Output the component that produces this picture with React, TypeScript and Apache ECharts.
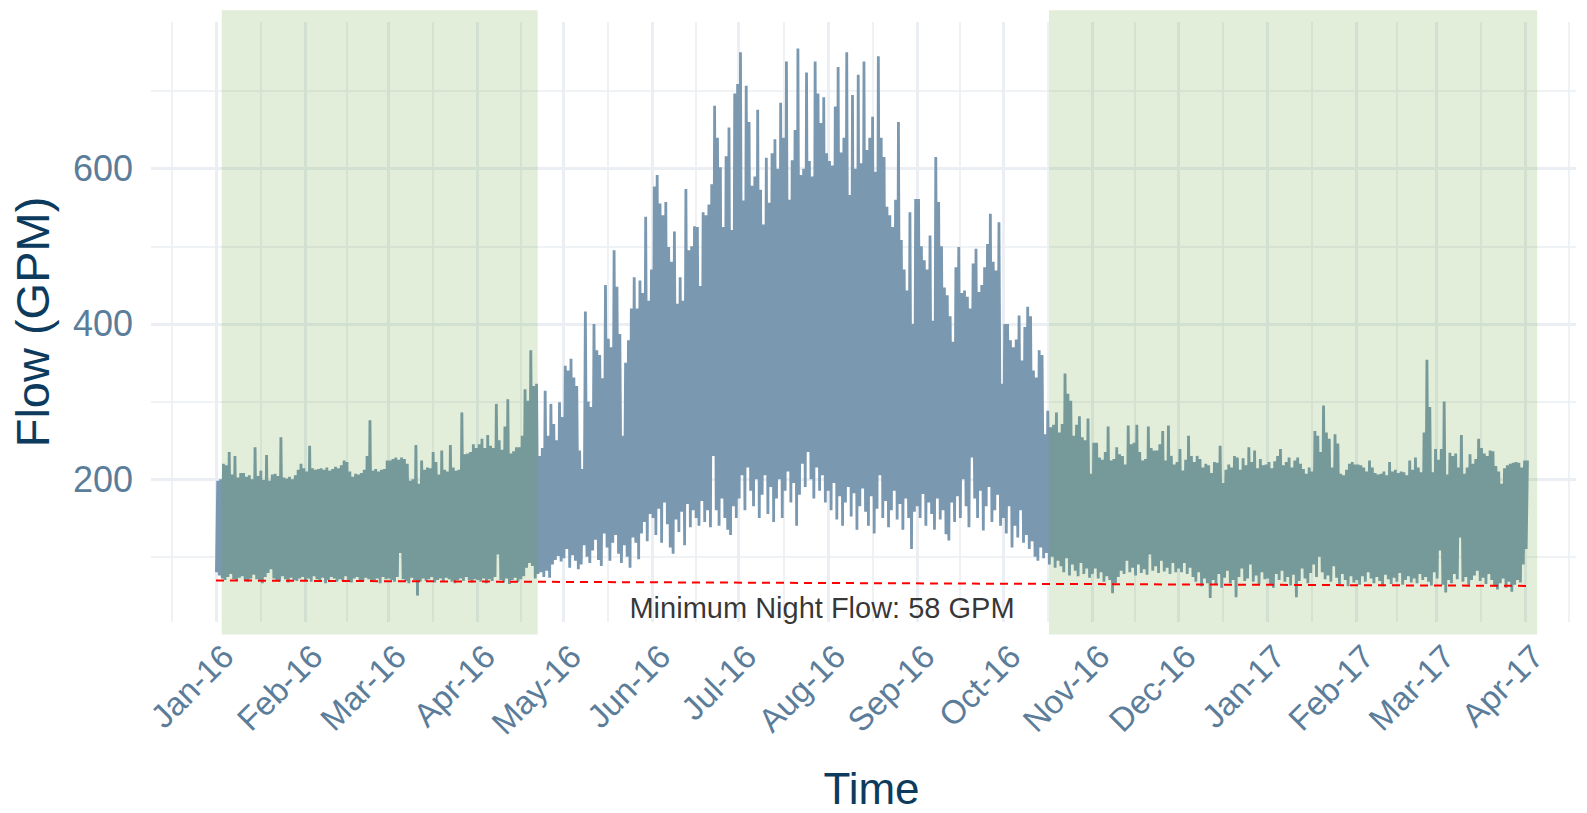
import React, { useEffect, useRef } from "react";
import * as echarts from "echarts";

// ---------- data ----------
const SERIES_START = "2016-01-01";

// daily peak flow (GPM), one value per day from 2016-01-01
const dailyHigh = [
  // Jan-16
  198, 200, 220, 218, 235, 206, 230, 202, 208, 208, 203, 205, 200, 241, 204, 211, 199, 231, 198, 206, 207, 204, 254, 202, 201, 203, 200, 205, 212, 220, 214,
  // Feb-16
  210, 243, 214, 212, 213, 214, 212, 215, 211, 213, 216, 214, 218, 224, 222, 210, 203, 207, 206, 208, 212, 230, 276, 211, 213, 210, 212, 213, 224,
  // Mar-16
  224, 226, 228, 225, 228, 226, 220, 198, 200, 244, 194, 224, 212, 215, 214, 235, 222, 206, 237, 212, 210, 244, 215, 211, 212, 286, 232, 233, 235, 245, 240,
  // Apr-16
  245, 252, 240, 257, 243, 240, 297, 250, 238, 268, 303, 233, 236, 241, 241, 256, 316, 301, 366, 320, 323, 230, 240, 314, 256, 297, 271, 250, 299, 280,
  // May-16
  346, 340, 355, 331, 320, 237, 213, 416, 300, 293, 400, 366, 360, 330, 450, 381, 370, 495, 448, 387, 256, 350, 379, 420, 460, 420, 456, 440, 538, 430, 470,
  // Jun-16
  577, 592, 555, 540, 557, 499, 480, 519, 426, 460, 430, 574, 495, 500, 526, 525, 449, 544, 540, 554, 580, 681, 640, 602, 525, 616, 653, 521, 697, 709,
  // Jul-16
  750, 559, 707, 660, 578, 590, 676, 573, 528, 614, 556, 620, 638, 600, 685, 640, 738, 560, 611, 650, 755, 592, 600, 724, 610, 590, 738, 697, 659, 692, 620,
  // Aug-16
  610, 604, 680, 731, 621, 640, 750, 566, 695, 600, 721, 607, 738, 624, 640, 667, 596, 745, 640, 615, 551, 540, 525, 560, 660, 508, 470, 443, 544, 400, 561,
  // Sep-16
  561, 500, 482, 470, 514, 404, 615, 557, 500, 447, 437, 410, 377, 473, 499, 440, 443, 435, 420, 478, 497, 441, 450, 473, 503, 542, 480, 469, 531, 323,
  // Oct-16
  400, 400, 379, 370, 380, 411, 353, 396, 422, 410, 340, 331, 366, 360, 258, 288, 267, 270, 286, 260, 271, 336, 310, 301, 256, 270, 281, 254, 250, 278, 207,
  // Nov-16
  247, 247, 228, 225, 235, 268, 224, 226, 241, 232, 230, 219, 269, 245, 247, 270, 235, 224, 226, 268, 240, 237, 237, 245, 262, 224, 269, 230, 219, 222,
  // Dec-16
  239, 211, 225, 256, 230, 222, 230, 226, 215, 220, 218, 208, 222, 221, 243, 195, 212, 219, 215, 230, 228, 212, 227, 218, 241, 222, 237, 214, 226, 218, 219,
  // Jan-17
  222, 214, 223, 230, 239, 218, 222, 228, 215, 224, 228, 220, 213, 207, 215, 210, 262, 256, 235, 295, 260, 252, 215, 258, 246, 207, 205, 212, 220, 222, 219,
  // Feb-17
  219, 218, 215, 210, 224, 215, 208, 206, 207, 210, 205, 222, 210, 212, 208, 210, 209, 205, 224, 212, 228, 215, 209, 260, 354, 293, 209, 239,
  // Mar-17
  225, 239, 300, 206, 234, 230, 233, 215, 257, 207, 215, 232, 220, 226, 252, 240, 233, 230, 237, 236, 217, 210, 194, 214, 218, 220, 221, 222, 221, 215, 224,
  // Apr-17
  224,
];

// daily night minimum flow (GPM), one value per day from 2016-01-01
const dailyLow = [
  // Jan-16
  80, 76, 72, 70, 74, 78, 71, 69, 73, 75, 70, 68, 72, 77, 71, 69, 66, 74, 79, 84, 72, 70, 68, 75, 71, 67, 73, 70, 69, 72, 74,
  // Feb-16
  70, 72, 68, 75, 71, 69, 73, 66, 70, 74, 72, 68, 71, 69, 75, 70, 67, 72, 74, 70, 69, 73, 71, 68, 70, 72, 66, 74, 71,
  // Mar-16
  72, 70, 68, 74, 105, 71, 69, 66, 73, 70, 50, 68, 72, 69, 71, 74, 67, 70, 72, 69, 73, 71, 68, 66, 70, 72, 69, 74, 70, 67, 71,
  // Apr-16
  70, 68, 72, 66, 71, 69, 74, 103, 70, 67, 72, 65, 70, 73, 68, 71, 75, 86, 92, 88, 72, 78, 80, 74, 82, 73, 90, 96, 101, 94,
  // May-16
  98, 110, 86, 102, 95, 84, 90, 115, 100, 92, 108, 122, 96, 88, 130, 112, 95, 118, 128, 104, 92, 115, 100, 86, 125, 118, 97, 130, 145, 120, 155,
  // Jun-16
  150, 128, 162, 118, 170, 142, 112, 104, 148, 132, 158, 115, 168, 138, 160, 150, 140, 172, 145, 160, 138, 230, 160, 140, 175, 150, 135, 128, 165, 150,
  // Jul-16
  175, 205, 160, 215, 185, 165, 200, 150, 180, 205, 155, 190, 145, 175, 200, 150, 185, 210, 170, 195, 140, 180, 220, 190, 235, 200, 175, 215, 185, 205, 170,
  // Aug-16
  185, 160, 195, 148, 178, 140, 170, 190, 152, 182, 135, 165, 188, 158, 140, 178, 130, 162, 205, 150, 172, 138, 160, 185, 148, 168, 135, 175, 150, 110, 158,
  // Sep-16
  165, 150, 181, 140, 170, 155, 135, 175, 148, 160, 129, 121, 170, 145, 178, 150, 200, 165, 138, 228, 175, 150, 185, 134, 165, 190, 145, 160, 180, 140,
  // Oct-16
  150, 130, 165, 112, 140, 125, 160, 118, 128, 110, 120, 100, 95, 112, 98, 105, 90, 100, 86, 95, 88, 80, 98, 76, 90, 82, 75, 92, 78, 85, 73,
  // Nov-16
  78, 85, 72, 80, 68, 75, 70, 53, 66, 74, 82, 78, 95, 80, 86, 76, 90, 79, 84, 77, 103, 82, 88, 79, 95, 81, 86, 78, 92, 80,
  // Dec-16
  85, 80, 92, 78, 86, 74, 68, 80, 62, 72, 66, 47, 70, 64, 78, 60, 73, 82, 66, 70, 48, 74, 85, 69, 72, 90, 68, 76, 65, 80, 71,
  // Jan-17
  72, 65, 60, 78, 70, 82, 68, 74, 63, 77, 48, 69, 85, 72, 66, 79, 90, 74, 100, 80, 71, 76, 68, 88, 73, 65, 78, 70, 62, 75, 67,
  // Feb-17
  70, 64, 75, 68, 80, 72, 66, 74, 69, 62, 77, 71, 65, 73, 68, 79, 64, 70, 75, 67, 72, 66, 78, 70, 74, 68, 63, 80,
  // Mar-17
  72, 108, 64, 54, 70, 66, 78, 71, 125, 68, 74, 63, 70, 76, 82, 69, 73, 65, 78, 70, 62, 58, 66, 72, 60, 68, 55, 64, 70, 67, 90,
  // Apr-17
  110,
];

// x-axis month breaks (labels shown for those inside the range)
const monthBreaks = [
  "2015-12-01", "2016-01-01", "2016-02-01", "2016-03-01", "2016-04-01", "2016-05-01", "2016-06-01",
  "2016-07-01", "2016-08-01", "2016-09-01", "2016-10-01", "2016-11-01", "2016-12-01",
  "2017-01-01", "2017-02-01", "2017-03-01", "2017-04-01", "2017-05-01",
];
const labelledMonths = monthBreaks.slice(1, 17);
const monthNames = ["Jan", "Feb", "Mar", "Apr", "May", "Jun", "Jul", "Aug", "Sep", "Oct", "Nov", "Dec"];

// y-axis breaks
const yMajorBreaks = [200, 400, 600];
const yMinorBreaks = [100, 300, 500, 700];
const yLimits = [16, 789];

// shaded low-demand (winter) periods
const shadedPeriods = [
  ["2016-01-03", "2016-04-22"],
  ["2016-10-17", "2017-04-05"],
];
const shadedValueRange = [0, 804];

// minimum night flow reference line
const nightFlowLine = [
  ["2016-01-01", 69.5],
  ["2017-04-03", 62.5],
];
const nightFlowLabel = { date: "2016-07-30", value: 34, text: "Minimum Night Flow: 58 GPM" };

// ---------- helpers ----------
const DAY = 24 * 3600 * 1000;
const parse = (s: string) => Date.parse(s + "T00:00:00Z");

const FONT = "Liberation Sans, Arial, Helvetica, sans-serif";
const TICK_COLOR = "#5b7d9a";
const TITLE_COLOR = "#0d3b5e";
const GRID_COLOR = "#ebeff3";

export default function App() {
  const ref = useRef<HTMLDivElement>(null);

  useEffect(() => {
    if (!ref.current) return;
    const chart = echarts.init(ref.current, undefined, { renderer: "svg" });

    const t0 = parse(SERIES_START);
    const flowData: [number, number][] = [];
    for (let i = 0; i < dailyHigh.length; i++) {
      flowData.push([t0 + (i + 0.15) * DAY, dailyLow[i]]);
      flowData.push([t0 + (i + 0.6) * DAY, dailyHigh[i]]);
    }

    const majorX = monthBreaks.map(parse);
    const minorX: number[] = [];
    for (let i = 0; i < majorX.length - 1; i++) minorX.push((majorX[i] + majorX[i + 1]) / 2);

    const xMin = t0 - 22.63 * DAY;
    const xMax = t0 + 473.5 * DAY;

    const shadeData = shadedPeriods.map(([a, b]) => [parse(a), parse(b), shadedValueRange[0], shadedValueRange[1]]);

    const fmt = (v: number) => {
      const d = new Date(v);
      return monthNames[d.getUTCMonth()] + "-" + String(d.getUTCFullYear()).slice(2);
    };

    const option: any = {
      animation: false,
      backgroundColor: "#ffffff",
      grid: { left: 151, right: 11, top: 22, bottom: 191, containLabel: false, outerBoundsMode: "none" },
      xAxis: [
        {
          type: "value",
          min: xMin,
          max: xMax,
          position: "bottom",
          axisLine: { show: false },
          axisTick: { show: false, customValues: majorX },
          axisLabel: {
            customValues: labelledMonths.map(parse),
            formatter: fmt,
            rotate: 45,
            align: "right",
            verticalAlign: "top",
            margin: 17,
            color: TICK_COLOR,
            fontSize: 33,
            fontFamily: FONT,
          },
          splitLine: { show: true, lineStyle: { color: GRID_COLOR, width: 3 } },
          name: "Time",
          nameLocation: "middle",
          nameGap: 144,
          nameTextStyle: { color: TITLE_COLOR, fontSize: 44, fontFamily: FONT, padding: [0, 0, 0, 16] },
        },
        {
          type: "value",
          min: xMin,
          max: xMax,
          position: "top",
          axisLine: { show: false },
          axisTick: { show: false, customValues: minorX },
          axisLabel: { show: false },
          splitLine: { show: true, lineStyle: { color: GRID_COLOR, width: 1.6 } },
        },
      ],
      yAxis: [
        {
          type: "value",
          min: yLimits[0],
          max: yLimits[1],
          axisLine: { show: false },
          axisTick: { show: false, customValues: yMajorBreaks },
          axisLabel: {
            customValues: yMajorBreaks,
            color: TICK_COLOR,
            fontSize: 36,
            fontFamily: FONT,
            margin: 18,
          },
          splitLine: { show: true, lineStyle: { color: GRID_COLOR, width: 3 } },
          name: "Flow (GPM)",
          nameLocation: "middle",
          nameGap: 95,
          nameTextStyle: { color: TITLE_COLOR, fontSize: 47, fontFamily: FONT },
        },
        {
          type: "value",
          min: yLimits[0],
          max: yLimits[1],
          position: "right",
          axisLine: { show: false },
          axisTick: { show: false, customValues: yMinorBreaks },
          axisLabel: { show: false },
          splitLine: { show: true, lineStyle: { color: GRID_COLOR, width: 1.6 } },
        },
      ],
      series: [
        {
          name: "Flow",
          type: "line",
          xAxisIndex: 0,
          yAxisIndex: 0,
          data: flowData,
          showSymbol: false,
          symbol: "none",
          lineStyle: { color: "#7a98b0", width: 2.8 },
          z: 2,
        },
        {
          name: "Shade",
          type: "custom",
          xAxisIndex: 0,
          yAxisIndex: 0,
          clip: false,
          data: shadeData,
          encode: { x: [0, 1], y: [2, 3] },
          renderItem: (_params: any, api: any) => {
            const p1 = api.coord([api.value(0), api.value(3)]);
            const p2 = api.coord([api.value(1), api.value(2)]);
            return {
              type: "rect",
              shape: { x: p1[0], y: p1[1], width: p2[0] - p1[0], height: p2[1] - p1[1] },
              style: { fill: "rgba(102,160,60,0.19)" },
            };
          },
          z: 3,
        },
        {
          name: "Night",
          type: "line",
          xAxisIndex: 0,
          yAxisIndex: 0,
          data: nightFlowLine.map(([d, v]) => [parse(d as string), v]),
          showSymbol: false,
          symbol: "none",
          lineStyle: { color: "#ff0000", width: 2, type: [8, 6] },
          z: 4,
        },
        {
          name: "Label",
          type: "scatter",
          xAxisIndex: 0,
          yAxisIndex: 0,
          data: [[parse(nightFlowLabel.date), nightFlowLabel.value]],
          symbolSize: 1,
          itemStyle: { color: "rgba(0,0,0,0)" },
          label: {
            show: true,
            position: "inside",
            formatter: nightFlowLabel.text,
            color: "#000000",
            fontSize: 29,
            fontFamily: FONT,
          },
          z: 5,
        },
      ],
    };

    chart.setOption(option);
    return () => chart.dispose();
  }, []);

  return (
    <div
      ref={ref}
      style={{ position: "absolute", left: 0, top: 0, width: 1587, height: 813, background: "#fff" }}
    />
  );
}
